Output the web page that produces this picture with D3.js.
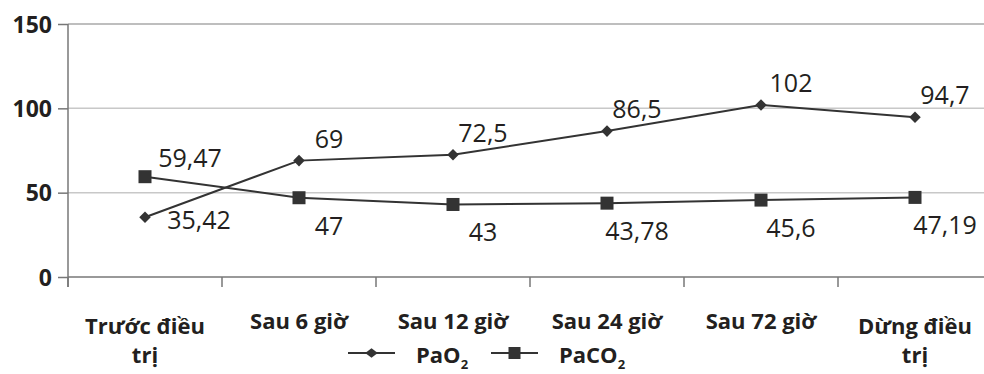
<!DOCTYPE html>
<html><head><meta charset="utf-8">
<script src="https://cdn.jsdelivr.net/npm/d3@7"></script>
<style>
html,body{margin:0;padding:0;background:#fff;}
svg{display:block;font-family:"Open Sans",sans-serif;}
</style></head>
<body>
<svg id="c" width="984" height="374"></svg>
<script>
const categories = ["Trước điều trị","Sau 6 giờ","Sau 12 giờ","Sau 24 giờ","Sau 72 giờ","Dừng điều trị"];
const paO2 = [35.42, 69, 72.5, 86.5, 102, 94.7];
const paCO2 = [59.47, 47, 43, 43.78, 45.6, 47.19];
const yTicks = [0, 50, 100, 150];
const seriesNames = ["PaO", "PaCO"];

(function () {
const svg = d3.select("#c");
const W = 984;
const plotLeft = 68, bandW = 154, plotTop = 24, plotBottom = 277;
const x = d3.scaleBand().domain(categories).range([plotLeft, plotLeft + bandW * categories.length]).padding(0);
const y = d3.scaleLinear().domain([0, 150]).range([plotBottom, plotTop]);
const lineColor = "#333333";
const fmt = v => String(v).replace(".", ",");

// gridlines
svg.append("g").selectAll("line").data(yTicks.filter(t => t > 0)).join("line")
  .attr("x1", plotLeft).attr("x2", W).attr("y1", d => y(d)).attr("y2", d => y(d))
  .attr("stroke", d => d === 150 ? "#a8a8a8" : "#c8c8c8").attr("stroke-width", 1.5);

// y axis
const yAxis = svg.append("g").attr("transform", `translate(${plotLeft},0)`)
  .call(d3.axisLeft(y).tickValues(yTicks).tickSize(10).tickPadding(6).tickFormat(d3.format("d")));
yAxis.select(".domain").remove();
yAxis.selectAll(".tick line").attr("stroke", "#777").attr("stroke-width", 1.5);
yAxis.selectAll(".tick text").attr("font-size", 23).attr("font-weight", 700)
  .attr("fill", "#231f20").attr("font-family", "'Open Sans',sans-serif").attr("dy", "0.36em");
svg.append("line").attr("x1", plotLeft).attr("x2", plotLeft).attr("y1", y(150)).attr("y2", plotBottom + 10)
  .attr("stroke", "#777").attr("stroke-width", 1.5);

// x axis line & boundary ticks
svg.append("line").attr("x1", plotLeft).attr("x2", W).attr("y1", plotBottom).attr("y2", plotBottom)
  .attr("stroke", "#777").attr("stroke-width", 1.5);
const bounds = categories.map(c => x(c)).concat([x.range()[1]]);
svg.append("g").selectAll("line").data(bounds).join("line")
  .attr("x1", d => d).attr("x2", d => d).attr("y1", plotBottom).attr("y2", plotBottom + 10)
  .attr("stroke", "#777").attr("stroke-width", 1.5);

// category labels (wrapped)
const catG = svg.append("g").attr("font-size", 22).attr("font-weight", 700).attr("fill", "#231f20");
categories.forEach(c => {
  const cx = x(c) + x.bandwidth() / 2;
  const t = catG.append("text").attr("x", cx).attr("text-anchor", "middle").text(c);
  const maxW = 138;
  if (t.node().getComputedTextLength() > maxW) {
    const words = c.split(" ");
    t.text(null);
    const lines = [];
    let cur = [];
    words.forEach(w => {
      cur.push(w);
      t.text(cur.join(" "));
      if (t.node().getComputedTextLength() > maxW && cur.length > 1) {
        cur.pop(); lines.push(cur.join(" ")); cur = [w];
      }
    });
    lines.push(cur.join(" "));
    t.text(null).attr("y", 334);
    lines.forEach((ln, i) => t.append("tspan").attr("x", cx).attr("y", 334 + i * 29).text(ln));
  } else {
    t.attr("y", 329);
  }
});

// lines
const line = d3.line().x((d, i) => x(categories[i]) + x.bandwidth() / 2).y(d => y(d));
[paO2, paCO2].forEach(s => {
  svg.append("path").datum(s).attr("d", line).attr("fill", "none")
    .attr("stroke", lineColor).attr("stroke-width", 2);
});
const diamond = d3.symbol().type(d3.symbolDiamond2).size(85);
svg.append("g").selectAll("path").data(paO2).join("path")
  .attr("transform", (d, i) => `translate(${x(categories[i]) + x.bandwidth() / 2},${y(d)})`)
  .attr("d", diamond).attr("fill", lineColor);
svg.append("g").selectAll("rect").data(paCO2).join("rect")
  .attr("x", (d, i) => x(categories[i]) + x.bandwidth() / 2 - 6.5).attr("y", d => y(d) - 6.5)
  .attr("width", 13).attr("height", 13).attr("fill", lineColor);

// data labels: higher series above, lower below
const labG = svg.append("g").attr("font-size", 25).attr("fill", "#231f20");
[paO2, paCO2].forEach((s, si) => {
  const other = si === 0 ? paCO2 : paO2;
  s.forEach((v, i) => {
    const above = v >= other[i];
    const cx = x(categories[i]) + x.bandwidth() / 2;
    let dx = 30, dy = above ? -13 : 37;
    if (i === 0) { dx = above ? 45 : 54; dy = above ? -10 : 12; }
    labG.append("text").attr("x", cx + dx).attr("y", y(v) + dy)
      .attr("text-anchor", "middle").text(fmt(v));
  });
});

// legend
const lg = svg.append("g").attr("font-size", 22).attr("font-weight", 700).attr("fill", "#231f20");
const legY = 353;
const legItems = [{x0: 348, name: seriesNames[0], sym: "d"}, {x0: 491, name: seriesNames[1], sym: "s"}];
legItems.forEach(it => {
  lg.append("line").attr("x1", it.x0).attr("x2", it.x0 + 47).attr("y1", legY).attr("y2", legY)
    .attr("stroke", lineColor).attr("stroke-width", 2);
  const mx = it.x0 + 23.5;
  if (it.sym === "d") {
    lg.append("path").attr("d", d3.symbol().type(d3.symbolDiamond2).size(60)())
      .attr("transform", `translate(${mx},${legY}) scale(1.3,1)`).attr("fill", lineColor);
  } else {
    lg.append("rect").attr("x", mx - 6).attr("y", legY - 6).attr("width", 12).attr("height", 12).attr("fill", lineColor);
  }
  const t = lg.append("text").attr("x", it.x0 + 68).attr("y", legY + 10).text(it.name);
  t.append("tspan").attr("font-size", 13).attr("dy", 6).text("2");
});
})();
</script>
</body></html>
